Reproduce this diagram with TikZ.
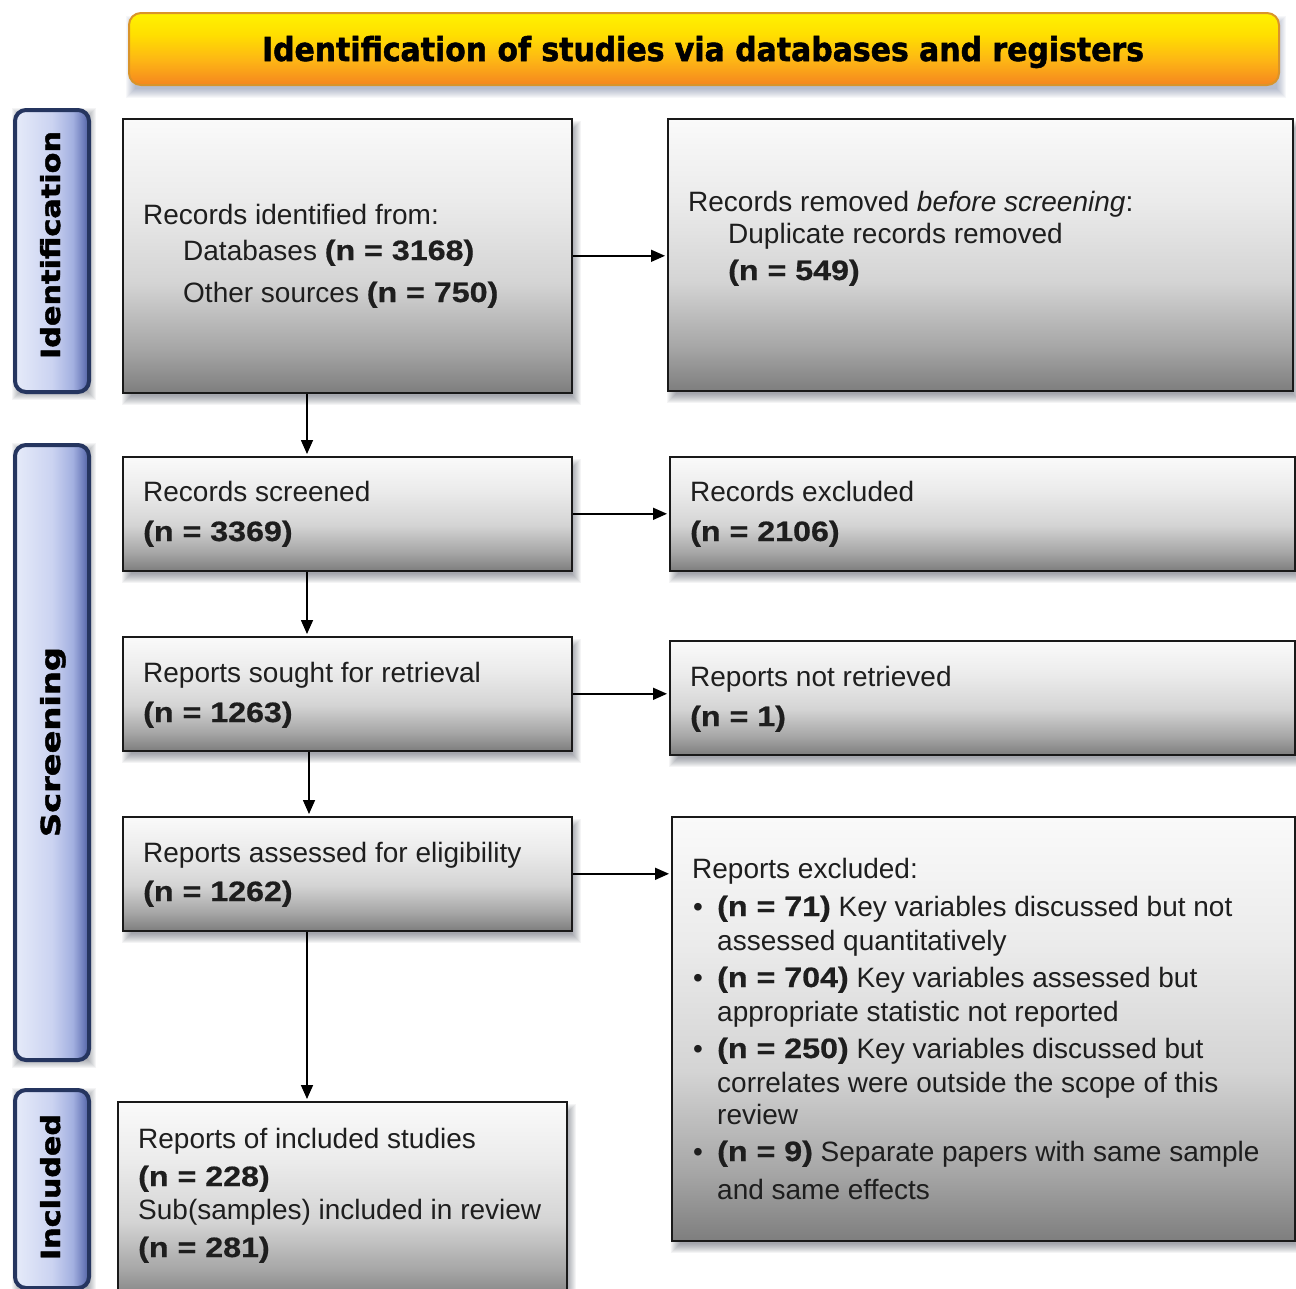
\documentclass[tikz,border=0pt]{standalone}
\usepackage{fontspec}
\setmainfont{Liberation Sans}[BoldFeatures={FakeBold=0.6}]
\newfontfamily\hdfont{DejaVu Sans}[BoldFeatures={FakeBold=1.6}]
\usetikzlibrary{arrows.meta,calc}
\definecolor{txtc}{HTML}{1E1E1E}
\definecolor{sb1}{HTML}{7E7E7E}
\definecolor{sb2}{HTML}{A6A6A6}
\definecolor{sb3}{HTML}{D4D4D4}
\definecolor{sb4}{HTML}{EBEBEB}
\definecolor{sb5}{HTML}{FAFAFA}
\definecolor{hb1}{HTML}{F5861F}
\definecolor{hb2}{HTML}{FDB515}
\definecolor{hb3}{HTML}{FFDF00}
\definecolor{hb4}{HTML}{FFF200}
\definecolor{hdborder}{HTML}{D9942A}
\definecolor{lb1}{HTML}{E6EBF9}
\definecolor{lb2}{HTML}{CBD3F1}
\definecolor{lb3}{HTML}{A3B0E0}
\definecolor{lb4}{HTML}{6F7FBD}
\definecolor{lb5}{HTML}{4E5E9E}
\definecolor{navy}{HTML}{25355F}
\definecolor{shadowc}{HTML}{2A3040}
\definecolor{hdshadowc}{HTML}{5A6A90}
\pgfdeclareverticalshading{boxshade}{100bp}{color(0bp)=(sb1); color(25bp)=(sb1); color(33bp)=(sb2); color(45bp)=(sb3); color(60bp)=(sb4); color(75bp)=(sb5); color(100bp)=(sb5)}
\pgfdeclareverticalshading{hdshade}{100bp}{color(0bp)=(hb1); color(25bp)=(hb1); color(42bp)=(hb2); color(60bp)=(hb3); color(75bp)=(hb4); color(100bp)=(hb4)}
\pgfdeclarehorizontalshading{sideshade}{100bp}{color(0bp)=(lb1); color(25bp)=(lb1); color(50bp)=(lb2); color(64bp)=(lb3); color(71bp)=(lb4); color(75bp)=(lb5); color(100bp)=(lb5)}
\newcommand\softsh[7]{%
  \foreach \i in {0,...,9}{%
    \fill[#7,opacity=0.05] (#1+#5-5+\i,#2+#6-5+\i) rectangle (#3+#5+5-\i,#4+#6+5-\i);
  }}
\newcommand\bn[1]{\scalebox{1.15}[1]{\bfseries #1}}
\tikzset{
  box/.style={draw=black!90, line width=1.6pt, shading=boxshade, inner sep=0pt, anchor=north west},
  side/.style={draw=navy, line width=4pt, rounded corners=11pt, shading=sideshade, inner sep=0pt, anchor=north west},
  txt/.style={text=txtc, font=\fontsize{28}{33}\selectfont, inner sep=0pt, anchor=base west},
  arr/.style={draw=black, line width=1.6pt, -{Triangle[length=14pt,width=12pt]}, shorten >=2pt},
  sidetxt/.style={rotate=90, anchor=base, inner sep=0pt, text=black}
}
\begin{document}
\begin{tikzpicture}[x=1pt,y=-1pt]
\useasboundingbox (0,0) rectangle (1296,1288);
\fill[white] (0,0) rectangle (1296,1288);
% shadows
\softsh{128}{12}{1278}{84}{3}{9}{hdshadowc}
\softsh{13}{108}{87}{390}{4}{5}{shadowc}
\softsh{13}{443}{87}{1058}{4}{5}{shadowc}
\softsh{13}{1088}{87}{1286}{4}{5}{shadowc}
\softsh{122}{118}{571}{392}{5}{8}{shadowc}
\softsh{667}{118}{1292}{390}{5}{8}{shadowc}
\softsh{122}{456}{571}{570}{5}{8}{shadowc}
\softsh{669}{456}{1294}{570}{5}{8}{shadowc}
\softsh{122}{636}{571}{750}{5}{8}{shadowc}
\softsh{669}{640}{1294}{754}{5}{8}{shadowc}
\softsh{122}{816}{571}{930}{5}{8}{shadowc}
\softsh{671}{816}{1294}{1240}{5}{8}{shadowc}
\softsh{117}{1101}{566}{1300}{5}{8}{shadowc}
% header
\node[rounded corners=12pt, draw=hdborder, line width=2pt, shading=hdshade, minimum width=1150pt, minimum height=72pt, inner sep=0pt, anchor=north west] (hd) at (128,12) {};
\node[anchor=base, inner sep=0pt, text=black] (hdt) at (703,61) {\resizebox{882pt}{25pt}{\hdfont\bfseries Identification of studies via databases and registers}};
% side labels
\node[side, minimum width=74pt, minimum height=282pt] (sid) at (13,108) {};
\node[sidetxt] (sidt) at (60,245) {\resizebox{228pt}{20pt}{\hdfont\bfseries Identification}};
\node[side, minimum width=74pt, minimum height=615pt] (scr) at (13,443) {};
\node[sidetxt] (scrt) at (60,742) {\resizebox{190pt}{20pt}{\hdfont\bfseries Screening}};
\node[side, minimum width=74pt, minimum height=198pt] (inc) at (13,1088) {};
\node[sidetxt] (inct) at (60,1187) {\resizebox{146pt}{20pt}{\hdfont\bfseries Included}};
% boxes
\node[box, minimum width=449pt, minimum height=274pt] (b1) at (122,118) {};
\node[box, minimum width=625pt, minimum height=272pt] (b2) at (667,118) {};
\node[box, minimum width=449pt, minimum height=114pt] (b3) at (122,456) {};
\node[box, minimum width=625pt, minimum height=114pt] (b4) at (669,456) {};
\node[box, minimum width=449pt, minimum height=114pt] (b5) at (122,636) {};
\node[box, minimum width=625pt, minimum height=114pt] (b6) at (669,640) {};
\node[box, minimum width=449pt, minimum height=114pt] (b7) at (122,816) {};
\node[box, minimum width=623pt, minimum height=424pt] (b8) at (671,816) {};
\node[box, minimum width=449pt, minimum height=200pt] (b9) at (117,1101) {};
% texts
\node[txt] (t1a) at (143,224) {Records identified from:};
\node[txt] (t1b) at (183,260) {Databases \bn{(n = 3168)}};
\node[txt] (t1c) at (183,302) {Other sources \bn{(n = 750)}};
\node[txt] (t2a) at (688,211) {Records removed \textit{before screening}:};
\node[txt] (t2b) at (728,243) {Duplicate records removed};
\node[txt] (t2c) at (728,280) {\bn{(n = 549)}};
\node[txt] (t3a) at (143,501) {Records screened};
\node[txt] (t3b) at (143,541) {\bn{(n = 3369)}};
\node[txt] (t4a) at (690,501) {Records excluded};
\node[txt] (t4b) at (690,541) {\bn{(n = 2106)}};
\node[txt] (t5a) at (143,682) {Reports sought for retrieval};
\node[txt] (t5b) at (143,722) {\bn{(n = 1263)}};
\node[txt] (t6a) at (690,686) {Reports not retrieved};
\node[txt] (t6b) at (690,726) {\bn{(n = 1)}};
\node[txt] (t7a) at (143,862) {Reports assessed for eligibility};
\node[txt] (t7b) at (143,901) {\bn{(n = 1262)}};
\node[txt] (t8a) at (692,878) {Reports excluded:};
\node[txt] (u1) at (693,916) {\textbullet};
\node[txt] (t8b) at (717,916) {\bn{(n = 71)} Key variables discussed but not};
\node[txt] (t8c) at (717,950) {assessed quantitatively};
\node[txt] (u2) at (693,987) {\textbullet};
\node[txt] (t8d) at (717,987) {\bn{(n = 704)} Key variables assessed but};
\node[txt] (t8e) at (717,1021) {appropriate statistic not reported};
\node[txt] (u3) at (693,1058) {\textbullet};
\node[txt] (t8f) at (717,1058) {\bn{(n = 250)} Key variables discussed but};
\node[txt] (t8g) at (717,1092) {correlates were outside the scope of this};
\node[txt] (t8h) at (717,1124) {review};
\node[txt] (u4) at (693,1161) {\textbullet};
\node[txt] (t8i) at (717,1161) {\bn{(n = 9)} Separate papers with same sample};
\node[txt] (t8j) at (717,1199) {and same effects};
\node[txt] (t9a) at (138,1148) {Reports of included studies};
\node[txt] (t9b) at (138,1186) {\bn{(n = 228)}};
\node[txt] (t9c) at (138,1219) {Sub(samples) included in review};
\node[txt] (t9d) at (138,1257) {\bn{(n = 281)}};
% connectors
\coordinate (ax1) at (307,0);
\coordinate (ax2) at (309,0);
\draw[arr] (b1.south -| ax1) -- (b3.north -| ax1);
\draw[arr] (b3.south -| ax1) -- (b5.north -| ax1);
\draw[arr] (b5.south -| ax2) -- (b7.north -| ax2);
\draw[arr] (b7.south -| ax1) -- (b9.north -| ax1);
\draw[arr] (b1.east) -- (b1.east -| b2.west);
\draw[arr] (b3.east) -- (b3.east -| b4.west);
\draw[arr] (b5.east) -- (b5.east -| b6.west);
\draw[arr] (b7.east) -- (b7.east -| b8.west);
\end{tikzpicture}
\end{document}
